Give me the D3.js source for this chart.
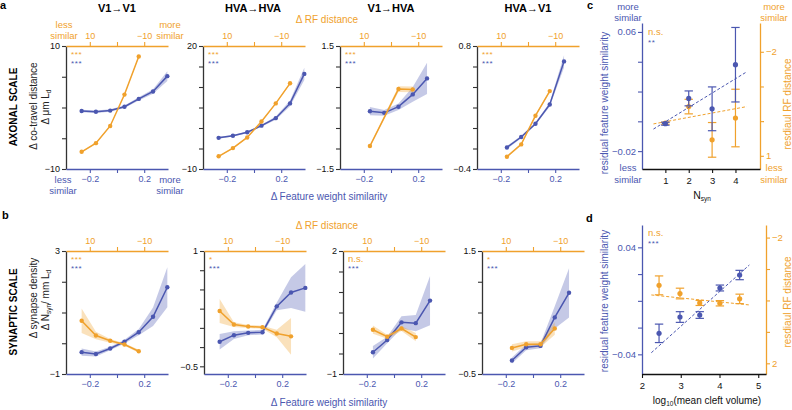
<!DOCTYPE html>
<html><head><meta charset="utf-8">
<script src="https://cdn.jsdelivr.net/npm/d3@7"></script>
<style>body{margin:0;background:#fff;} svg text{font-family:"Liberation Sans",Arial,Helvetica,sans-serif;}</style>
</head><body>
<svg id="fig" width="792" height="410"></svg>
<script>
// ---------------- DATA ----------------
const colTitles = ["V1→V1","HVA→HVA","V1→HVA","HVA→V1"];
const featTicks = [-0.2, 0, 0.2];
const rfTicks = [10, 0, -10];
const binX   = [-0.26, -0.155, -0.05, 0.055, 0.16, 0.265, 0.37];
const rfBinX = [13, 7.75, 2.5, -2.75, -8, -13.25, -18.5];

const aYTicks = [[-10,-5,0,5,10],[-10,-5,0,5,10,15,20],[-1.5,-1,-0.5,0,0.5,1,1.5],[-0.4,-0.2,0,0.2,0.4,0.6,0.8]];
const bYTicks = [[-1,0,1,2,3],[-0.5,-0.25,0,0.25,0.5,0.75,1],[-1,-0.5,0,0.5,1,1.5,2],[-0.5,0,0.5,1,1.5]];
const aYDomain = [[-10,10],[-10,20],[-1.5,1.5],[-0.4,0.8]];
const bYDomain = [[-1,3],[-0.6,1],[-1,2],[-0.5,1.5]];
const aSigOrange = ["***","***","***","***"];
const aSigBlue   = ["***","***","***","***"];
const bSigOrange = ["***","*","n.s.","*"];
const bSigBlue   = ["***","***","***","***"];

// Row a: axonal scale
const a1Blue = [-0.57,-0.7,-0.5,0.13,1.4,2.6,5.1];
const a1BlueErr = [0.2,0.2,0.2,0.2,0.25,0.35,0.8];
const a1Orange = [-7.2,-5.8,-3.0,2.1,8.3,null,null];
const a1OrangeErr = [0.1,0.1,0.1,0.1,0.15,null,null];
const a2Blue = [-2.4,-1.9,-1.05,0.57,2.4,6.0,13.2];
const a2BlueErr = [0.25,0.2,0.2,0.25,0.4,0.7,1.5];
const a2Orange = [-6.9,-4.9,-2.3,1.6,6.0,10.9,null];
const a2OrangeErr = [0.15,0.15,0.15,0.15,0.15,0.2,null];
const a3Blue = [null,-0.09,-0.13,0.02,0.32,0.71,null];
const a3BlueErr = [null,0.1,0.07,0.08,0.18,0.38,null];
const a3Orange = [null,-0.94,null,0.45,0.44,null,null];
const a3OrangeErr = [null,0.02,null,0.07,0.07,null,null];
const a4Blue = [null,-0.19,-0.088,0.042,0.23,0.65,null];
const a4BlueErr = [null,0.015,0.012,0.012,0.02,0.06,null];
const a4Orange = [null,-0.28,-0.16,0.12,0.36,null,null];
const a4OrangeErr = [null,0.01,0.01,0.01,0.01,null,null];

// Row b: synaptic scale
const b1Blue = [-0.29,-0.35,-0.17,0.05,0.36,0.86,1.82];
const b1BlueErr = [0.12,0.08,0.06,0.06,0.1,0.3,0.65];
const b1Orange = [0.73,0.25,0.08,-0.04,-0.26,null,null];
const b1OrangeErr = [0.4,0.12,0.06,0.04,0.05,null,null];
const b2Blue = [-0.18,-0.095,-0.065,-0.056,0.28,0.46,0.52];
const b2BlueErr = [0.1,0.05,0.03,0.03,0.05,0.2,0.31];
const b2Orange = [0.22,0.043,0.017,0.009,-0.073,-0.11,null];
const b2OrangeErr = [0.155,0.03,0.02,0.02,0.05,0.24,null];
const b3Blue = [null,-0.47,-0.17,0.26,0.24,0.79,null];
const b3BlueErr = [null,0.15,0.08,0.15,0.2,0.6,null];
const b3Orange = [null,0.08,-0.09,0.11,-0.1,null,null];
const b3OrangeErr = [null,0.1,0.05,0.06,0.1,null,null];
const b4Blue = [null,-0.28,-0.065,-0.043,0.42,0.82,null];
const b4BlueErr = [null,0.05,0.05,0.04,0.18,0.4,null];
const b4Orange = [null,-0.076,-0.016,-0.016,0.24,null,null];
const b4OrangeErr = [null,0.06,0.05,0.05,0.1,null,null];

// Panel c
const cX = [1,2,3,4];
const cBlue = [-0.0016,0.0154,0.0084,0.038];
const cBlueErr = [0.001,0.005,0.0147,0.025];
const cOrange = [0.06,-0.42,0.54,-0.09];
const cOrangeErr = [0.03,0.21,0.5,0.83];
const cFitX = [0.49,4.49];
const cBlueFit = [-0.0052,0.0333];
const cOrangeFit = [0.08,-0.42];
const cYTicksB = [-0.02,0,0.02,0.04,0.06];
const cYTicksO = [-2,-1,0,1];

// Panel d
const dX = [2.44,2.98,3.49,4.01,4.52];
const dBlue = [-0.0243,-0.0121,-0.0106,0.0096,0.0193];
const dBlueErr = [0.0069,0.004,0.0025,0.0022,0.0035];
const dOrange = [-0.48,-0.22,0.08,0.09,-0.05];
const dOrangeErr = [0.3,0.17,0.08,0.085,0.15];
const dFitX = [2.24,4.77];
const dBlueFit = [-0.0388,0.0268];
const dOrangeFit = [-0.175,0.143];
const dXTicks = [2,3,4,5];
const dYTicksB = [-0.04,-0.02,0,0.02,0.04];
const dYTicksO = [-2,-1,0,1,2];

// ---------------- DRAWING ----------------
const BLUE = "#4b57b0", ORANGE = "#f0a12c", DARK = "#333333";
const BLUEBAND = "rgba(75,87,176,0.32)", ORANGEBAND = "rgba(240,161,44,0.32)";
const FONT = "Liberation Sans, Arial, sans-serif";
const svg = d3.select("#fig");
const fmt = d => (d < 0 ? "\u2212" + Math.abs(d) : String(d));

function styleAxis(g, color, labelColor, fs) {
  g.attr("font-family", FONT).attr("font-size", fs || 9);
  g.select(".domain").attr("stroke", color).attr("stroke-width", 1.3);
  g.selectAll(".tick line").attr("stroke", color).attr("stroke-width", 1.1);
  g.selectAll(".tick text").attr("fill", labelColor);
}

function txt(x, y, s, opts) {
  opts = opts || {};
  const t = svg.append("text").attr("x", x).attr("y", y)
    .attr("font-size", opts.fs || 9).attr("fill", opts.fill || "#000")
    .attr("text-anchor", opts.anchor || "middle")
    .attr("font-weight", opts.bold ? "bold" : "normal").text(s);
  if (opts.ls) t.attr("letter-spacing", opts.ls);
  if (opts.rot) t.attr("transform", `rotate(${opts.rot},${x},${y})`);
  return t;
}

const W = 102;
const aLeft = [66, 203, 340, 477], bLeft = [66, 204, 343, 482];
const rows = [
  {top: 46, bottom: 169, lefts: aLeft, ticks: aYTicks, dom: aYDomain, sigO: aSigOrange, sigB: aSigBlue,
   blue: [a1Blue,a2Blue,a3Blue,a4Blue], blueErr: [a1BlueErr,a2BlueErr,a3BlueErr,a4BlueErr],
   orange: [a1Orange,a2Orange,a3Orange,a4Orange], orangeErr: [a1OrangeErr,a2OrangeErr,a3OrangeErr,a4OrangeErr]},
  {top: 251, bottom: 374, lefts: bLeft, ticks: bYTicks, dom: bYDomain, sigO: bSigOrange, sigB: bSigBlue,
   blue: [b1Blue,b2Blue,b3Blue,b4Blue], blueErr: [b1BlueErr,b2BlueErr,b3BlueErr,b4BlueErr],
   orange: [b1Orange,b2Orange,b3Orange,b4Orange], orangeErr: [b1OrangeErr,b2OrangeErr,b3OrangeErr,b4OrangeErr]}
];

rows.forEach((row, r) => {
  row.lefts.forEach((left, i) => {
    const x = d3.scaleLinear().domain([-0.375, 0.375]).range([left, left + W]);
    const rf = d3.scaleLinear().domain([18.75, -18.75]).range([left, left + W]);
    const y = d3.scaleLinear().domain(row.dom[i]).range([row.bottom, row.top]);
    const g = svg.append("g");

    const series = (vals, errs, xs, sx) => vals.map((v, k) => ({x: sx(xs[k]), v, e: errs[k]})).filter(d => d.v !== null);
    const bl = series(row.blue[i], row.blueErr[i], binX, x);
    const or = series(row.orange[i], row.orangeErr[i], rfBinX, rf);

    const area = d3.area().x(d => d.x).y0(d => y(d.v - d.e)).y1(d => y(d.v + d.e));
    const line = d3.line().x(d => d.x).y(d => y(d.v));
    g.append("path").datum(bl).attr("d", area).attr("fill", BLUEBAND);
    g.append("path").datum(or).attr("d", area).attr("fill", ORANGEBAND);
    g.append("path").datum(bl).attr("d", line).attr("fill", "none").attr("stroke", BLUE).attr("stroke-width", 1.5);
    g.selectAll(null).data(bl).join("circle").attr("cx", d => d.x).attr("cy", d => y(d.v)).attr("r", 2.2).attr("fill", BLUE);
    g.append("path").datum(or).attr("d", line).attr("fill", "none").attr("stroke", ORANGE).attr("stroke-width", 1.5);
    g.selectAll(null).data(or).join("circle").attr("cx", d => d.x).attr("cy", d => y(d.v)).attr("r", 2.2).attr("fill", ORANGE);

    const tk = row.ticks[i];
    const ga = svg.append("g").attr("transform", `translate(${left},0)`)
      .call(d3.axisLeft(y).tickValues(tk).tickSize(4).tickSizeOuter(0).tickPadding(2)
        .tickFormat(d => (d === tk[0] || d === tk[tk.length - 1]) ? fmt(d) : ""));
    styleAxis(ga, DARK, "#111");
    const gb = svg.append("g").attr("transform", `translate(0,${row.bottom})`)
      .call(d3.axisBottom(x).tickValues(featTicks).tickSize(4).tickSizeOuter(0).tickPadding(3)
        .tickFormat(d => d === 0 ? "" : fmt(d)));
    styleAxis(gb, BLUE, BLUE);
    const gt = svg.append("g").attr("transform", `translate(0,${row.top})`)
      .call(d3.axisTop(rf).tickValues(rfTicks).tickSize(4).tickSizeOuter(0).tickPadding(3)
        .tickFormat(d => d === 0 ? "" : fmt(d)));
    styleAxis(gt, ORANGE, ORANGE);

    // significance
    const so = row.sigO[i];
    if (so === "n.s.") txt(left + 5, row.top + 11, so, {fs: 9.5, fill: ORANGE, anchor: "start"});
    else txt(left + 5, row.top + 11, so, {fs: 8, fill: ORANGE, anchor: "start", ls: 0.6});
    txt(left + 5, row.top + 20, row.sigB[i], {fs: 8, fill: BLUE, anchor: "start", ls: 0.6});
  });
  // shared labels
  txt(327, r === 0 ? 23 : 229, "Δ RF distance", {fs: 10, fill: ORANGE});
  txt(329, r === 0 ? 200 : 406, "Δ Feature weight similarity", {fs: 10, fill: BLUE});
});

// column titles
[117, 253, 391, 528].forEach((cx, i) => txt(cx, 12, colTitles[i], {fs: 11, bold: true}));
// panel letters
txt(0, 9, "a", {fs: 11, bold: true, anchor: "start"});
txt(2, 219, "b", {fs: 11, bold: true, anchor: "start"});
txt(587, 9, "c", {fs: 11, bold: true, anchor: "start"});
txt(586, 222, "d", {fs: 11, bold: true, anchor: "start"});

// row labels
txt(17, 107, "AXONAL SCALE", {fs: 10, bold: true, rot: -90});
txt(37, 106, "Δ co-travel distance", {fs: 10, fill: "#222", rot: -90});
{
  const t = txt(49, 107, "Δ μm L", {fs: 10, fill: "#222", rot: -90});
  t.append("tspan").attr("font-size", 6.5).attr("dy", 2).text("d");
}
txt(17, 312, "SYNAPTIC SCALE", {fs: 10, bold: true, rot: -90});
txt(37, 298, "Δ synapse density", {fs: 10, fill: "#222", rot: -90});
{
  const t = txt(49, 300, "Δ N", {fs: 10, fill: "#222", rot: -90});
  t.append("tspan").attr("font-size", 6.5).attr("dy", 2).text("syn");
  t.append("tspan").attr("dy", -2).text("/ mm L");
  t.append("tspan").attr("font-size", 6.5).attr("dy", 2).text("d");
}
// similarity annotations (a1)
txt(64, 28, "less", {fs: 9.5, fill: ORANGE}); txt(64, 39, "similar", {fs: 9.5, fill: ORANGE});
txt(170, 28, "more", {fs: 9.5, fill: ORANGE}); txt(170, 39, "similar", {fs: 9.5, fill: ORANGE});
txt(63, 183, "less", {fs: 9.5, fill: BLUE}); txt(63, 194, "similar", {fs: 9.5, fill: BLUE});
txt(170, 183, "more", {fs: 9.5, fill: BLUE}); txt(170, 194, "similar", {fs: 9.5, fill: BLUE});

// ---------- panels c & d ----------
function drawResid(cfg) {
  const {left, right, top, bottom, xDom, yBDom, yODom, xs, bVals, bErr, oVals, oErr, fitX, bFit, oFit,
         xTicks, yTB, yTO, xTickFmt} = cfg;
  const x = d3.scaleLinear().domain(xDom).range([left, right]);
  const yB = d3.scaleLinear().domain(yBDom).range([bottom, top]);
  const yO = d3.scaleLinear().domain(yODom).range([bottom, top]);
  const g = svg.append("g");
  const cap = 4.2;
  function errbars(vals, errs, ys, color) {
    xs.forEach((xv, k) => {
      const cx = x(xv), y0 = ys(vals[k] - errs[k]), y1 = ys(vals[k] + errs[k]);
      g.append("line").attr("x1", cx).attr("x2", cx).attr("y1", y0).attr("y2", y1).attr("stroke", color).attr("stroke-width", 1.2);
      [y0, y1].forEach(yy => g.append("line").attr("x1", cx - cap).attr("x2", cx + cap).attr("y1", yy).attr("y2", yy).attr("stroke", color).attr("stroke-width", 1.2));
      g.append("circle").attr("cx", cx).attr("cy", ys(vals[k])).attr("r", 2.6).attr("fill", color);
    });
  }
  g.append("line").attr("x1", x(fitX[0])).attr("x2", x(fitX[1])).attr("y1", yO(oFit[0])).attr("y2", yO(oFit[1]))
    .attr("stroke", ORANGE).attr("stroke-width", 1).attr("stroke-dasharray", "3,2");
  errbars(oVals, oErr, yO, ORANGE);
  g.append("line").attr("x1", x(fitX[0])).attr("x2", x(fitX[1])).attr("y1", yB(bFit[0])).attr("y2", yB(bFit[1]))
    .attr("stroke", BLUE).attr("stroke-width", 1).attr("stroke-dasharray", "3,2");
  errbars(bVals, bErr, yB, BLUE);

  const gl = svg.append("g").attr("transform", `translate(${left},0)`)
    .call(d3.axisLeft(yB).tickValues(yTB).tickSize(4).tickSizeOuter(0).tickPadding(2)
      .tickFormat(d => (d === yTB[0] || d === yTB[yTB.length - 1]) ? fmt(d) : ""));
  styleAxis(gl, BLUE, BLUE, 9.5);
  const gr = svg.append("g").attr("transform", `translate(${right},0)`)
    .call(d3.axisRight(yO).tickValues(yTO).tickSize(4).tickSizeOuter(0).tickPadding(2)
      .tickFormat(d => (d === yTO[0] || d === yTO[yTO.length - 1]) ? fmt(d) : ""));
  styleAxis(gr, ORANGE, ORANGE, 9.5);
  const gb = svg.append("g").attr("transform", `translate(0,${bottom})`)
    .call(d3.axisBottom(x).tickValues(xTicks).tickSize(4).tickSizeOuter(0).tickPadding(4).tickFormat(xTickFmt));
  styleAxis(gb, "#111", "#111", 9.5);
}

drawResid({left: 642, right: 760, top: 23, bottom: 169, xDom: [0, 5.05], yBDom: [-0.032, 0.066], yODom: [1.38, -2.83],
  xs: cX, bVals: cBlue, bErr: cBlueErr, oVals: cOrange, oErr: cOrangeErr, fitX: cFitX, bFit: cBlueFit, oFit: cOrangeFit,
  xTicks: cX, yTB: cYTicksB, yTO: cYTicksO, xTickFmt: d => String(d)});
drawResid({left: 642, right: 766, top: 225, bottom: 374, xDom: [2, 5.2], yBDom: [-0.0547, 0.0567], yODom: [2.34, -2.4],
  xs: dX, bVals: dBlue, bErr: dBlueErr, oVals: dOrange, oErr: dOrangeErr, fitX: dFitX, bFit: dBlueFit, oFit: dOrangeFit,
  xTicks: dXTicks, yTB: dYTicksB, yTO: dYTicksO, xTickFmt: d => String(d)});

// c/d text
txt(648, 35, "n.s.", {fs: 9.5, fill: ORANGE, anchor: "start"});
txt(648, 45, "**", {fs: 8, fill: BLUE, anchor: "start", ls: 0.6});
txt(648, 236, "n.s.", {fs: 9.5, fill: ORANGE, anchor: "start"});
txt(648, 246, "***", {fs: 8, fill: BLUE, anchor: "start", ls: 0.6});
txt(628, 10, "more", {fs: 9.5, fill: BLUE}); txt(628, 21, "similar", {fs: 9.5, fill: BLUE});
txt(628, 171, "less", {fs: 9.5, fill: BLUE}); txt(628, 183, "similar", {fs: 9.5, fill: BLUE});
txt(774, 10, "more", {fs: 9.5, fill: ORANGE}); txt(774, 21, "similar", {fs: 9.5, fill: ORANGE});
txt(774, 171, "less", {fs: 9.5, fill: ORANGE}); txt(774, 183, "similar", {fs: 9.5, fill: ORANGE});
txt(608, 103, "residual feature weight similarity", {fs: 10, fill: BLUE, rot: -90});
txt(791, 104, "resdiaul RF distance", {fs: 10, fill: ORANGE, rot: -90});
txt(608, 301, "residual feature weight similarity", {fs: 10, fill: BLUE, rot: -90});
txt(791, 302, "resdiaul RF distance", {fs: 10, fill: ORANGE, rot: -90});
{
  const t = txt(702, 199, "N", {fs: 10.5, fill: "#111"});
  t.append("tspan").attr("font-size", 6.5).attr("dy", 2).text("syn");
}
{
  const t = txt(707, 404, "log", {fs: 10, fill: "#111"});
  t.append("tspan").attr("font-size", 6.5).attr("dy", 2).text("10");
  t.append("tspan").attr("dy", -2).text("(mean cleft volume)");
}
</script>
</body></html>
